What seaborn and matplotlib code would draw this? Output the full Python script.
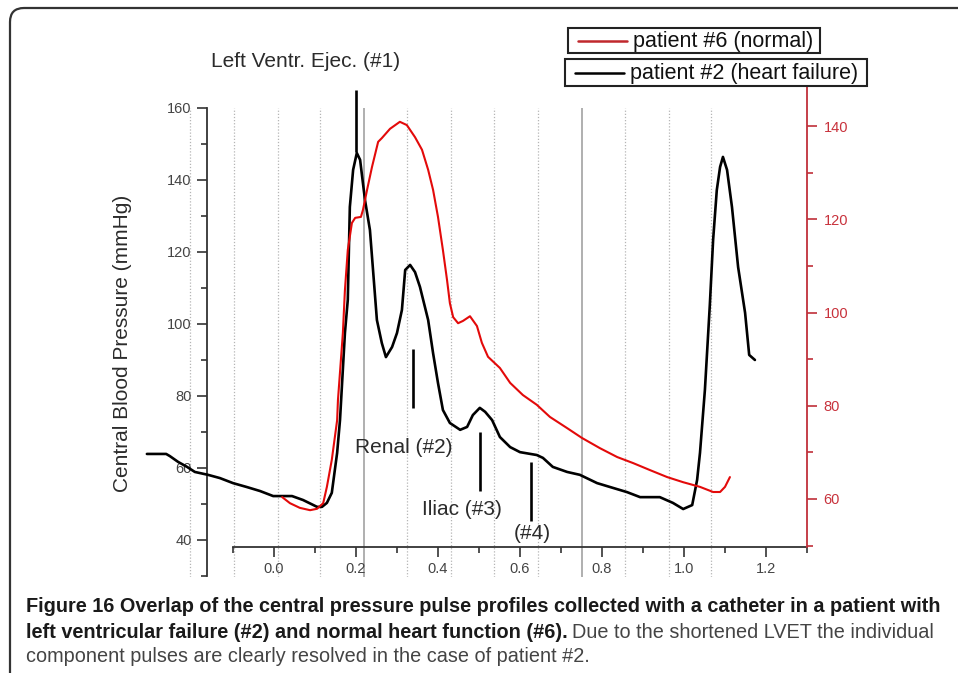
import numpy as np
import seaborn as sns
import matplotlib.pyplot as plt
from matplotlib.patches import FancyBboxPatch, Rectangle
from matplotlib.lines import Line2D
from matplotlib.transforms import IdentityTransform
from matplotlib.ticker import FixedLocator

# patient #2 (heart failure), left axis (mmHg)
hf_time = [-0.310, -0.263, -0.254, -0.234, -0.212, -0.193, -0.161, -0.132, -0.100, -0.066,
           -0.034, -0.002, 0.022, 0.044, 0.071, 0.105, 0.117, 0.129, 0.141, 0.154,
           0.161, 0.173, 0.180, 0.185, 0.193, 0.202, 0.210, 0.222, 0.234, 0.251,
           0.263, 0.273, 0.288, 0.300, 0.312, 0.320, 0.332, 0.344, 0.356, 0.376,
           0.388, 0.400, 0.412, 0.429, 0.454, 0.471, 0.485, 0.502, 0.515, 0.532,
           0.551, 0.576, 0.600, 0.641, 0.656, 0.680, 0.715, 0.746, 0.788, 0.820,
           0.861, 0.893, 0.941, 0.973, 0.998, 1.020, 1.032, 1.039, 1.051, 1.063,
           1.071, 1.080, 1.088, 1.095, 1.105, 1.117, 1.132, 1.149, 1.159, 1.173]
hf_pressure = [63.9, 63.9, 63.3, 61.7, 60.3, 58.9, 58.1, 57.2, 55.8, 54.7,
               53.6, 52.2, 52.2, 52.2, 51.1, 49.2, 49.2, 50.3, 53.1, 64.2,
               73.3, 97.5, 106.7, 132.5, 142.8, 147.5, 145.6, 134.4, 126.1, 101.1,
               94.7, 90.8, 93.6, 97.5, 103.9, 115.0, 116.4, 114.4, 110.3, 101.1,
               91.9, 83.6, 76.1, 72.5, 70.6, 71.4, 74.7, 76.7, 75.6, 73.3,
               68.6, 65.8, 64.4, 63.6, 62.8, 60.3, 58.9, 58.1, 55.8, 54.7,
               53.3, 51.9, 51.9, 50.3, 48.6, 49.7, 56.7, 64.2, 81.7, 105.3,
               123.3, 137.2, 143.6, 146.4, 142.8, 132.5, 115.8, 103.1, 91.4, 90.0]

# patient #6 (normal), right axis
normal_time = [0.020, 0.039, 0.063, 0.088, 0.105, 0.120, 0.129, 0.141, 0.154, 0.156,
               0.168, 0.173, 0.180, 0.190, 0.198, 0.212, 0.217, 0.227, 0.239, 0.254,
               0.263, 0.283, 0.307, 0.324, 0.344, 0.361, 0.376, 0.388, 0.400, 0.412,
               0.422, 0.429, 0.437, 0.449, 0.461, 0.478, 0.495, 0.507, 0.522, 0.551,
               0.576, 0.607, 0.641, 0.673, 0.715, 0.751, 0.795, 0.837, 0.876, 0.917,
               0.959, 0.998, 1.039, 1.071, 1.088, 1.100, 1.112]
normal_pressure = [60.4, 59.1, 58.1, 57.6, 57.9, 59.1, 62.6, 68.4, 76.9, 81.2,
                   95.6, 104.8, 113.4, 119.2, 120.3, 120.5, 122.0, 126.3, 131.2, 136.6,
                   137.4, 139.4, 140.9, 140.2, 137.6, 134.9, 130.6, 126.3, 120.5, 113.4,
                   107.0, 102.0, 99.0, 97.7, 98.2, 99.2, 97.1, 93.5, 90.5, 88.1,
                   84.9, 82.3, 80.2, 77.6, 75.2, 73.1, 70.9, 69.0, 67.7, 66.2,
                   64.7, 63.6, 62.6, 61.5, 61.5, 62.6, 64.7]

# recorder time grid
grid_time = [-0.205, -0.098, 0.010, 0.112, 0.220, 0.324, 0.432, 0.537, 0.644, 0.751,
             0.856, 0.963, 1.066]
grid_solid = [0.220, 0.751]

# component pulse markers
mark_time = [0.200, 0.339, 0.502, 0.627]
mark_low = [147.8, 76.7, 53.6, 45.3]
mark_high = [165.0, 93.1, 70.0, 61.7]
mark_labels = ["Left Ventr. Ejec. (#1)", "Renal (#2)", "Iliac (#3)", "(#4)"]
label_time = [0.078, 0.317, 0.459, 0.629]
label_level = [172.8, 65.8, 48.6, 41.9]

left_ticks = [40, 60, 80, 100, 120, 140, 160]
right_ticks = [60, 80, 100, 120, 140]
x_ticks = [0.0, 0.2, 0.4, 0.6, 0.8, 1.0, 1.2]

W, H = 958, 673
sns.set_theme(style="white")
plt.rcParams["font.family"] = ["Liberation Sans", "DejaVu Sans"]

fig = plt.figure(figsize=(W / 100, H / 100), dpi=100)


def fx(px):
    return px / W


def fy(py):
    return 1 - py / H


ax = fig.add_axes([fx(140), fy(577), (807 - 140) / W, (577 - 86) / H])
ax.set_facecolor("none")
ax2 = ax.twinx()

# grid
dotted = [t for t in grid_time if t not in grid_solid]
ax.vlines(dotted, 29.72, 160, colors="#b5b5b5", linestyles=(0, (1, 1.5)), lw=0.9, zorder=0)
ax.vlines(grid_solid, 29.72, 160, colors="#9a9a9a", lw=1.1, zorder=0)

sns.lineplot(x=hf_time, y=hf_pressure, ax=ax, color="black", lw=1.9,
             estimator=None, sort=False, zorder=3)
sns.lineplot(x=normal_time, y=normal_pressure, ax=ax2, color="#e30a0a", lw=1.5,
             estimator=None, sort=False)

# markers + labels
ax.vlines(mark_time, mark_low, mark_high, colors="black", lw=1.9, zorder=4)
for lab, tx, ty in zip(mark_labels, label_time, label_level):
    ax.text(tx, ty, lab, ha="center", va="center", fontsize=15, color="#2b2b2b",
            clip_on=False)

ax.set_xlim(-0.3268, 1.3)
ax.set_ylim(29.72, 166.1)
ax2.set_ylim(43.27, 148.58)

for s in ["top", "right"]:
    ax.spines[s].set_visible(False)
for s in ["top", "left", "bottom"]:
    ax2.spines[s].set_visible(False)
ax.spines["left"].set_position(("data", -0.1634))
ax.spines["left"].set_bounds(30, 160)
ax.spines["bottom"].set_position(("data", 38.06))
ax.spines["bottom"].set_bounds(-0.1, 1.3)
for s in ["left", "bottom"]:
    ax.spines[s].set_color("#333333")
    ax.spines[s].set_linewidth(1.3)
ax2.spines["right"].set_color("#c0303a")
ax2.spines["right"].set_linewidth(1.3)
ax2.spines["right"].set_bounds(49.7, 148.58)

ax.set_yticks(left_ticks)
ax.set_yticklabels([str(v) for v in left_ticks])
ax.yaxis.set_minor_locator(FixedLocator(np.arange(30, 151, 20)))
ax.set_xticks(x_ticks)
ax.set_xticklabels([f"{v:.1f}" for v in x_ticks])
ax.xaxis.set_minor_locator(FixedLocator(np.arange(-0.1, 1.31, 0.2)))
ax.tick_params(left=True, bottom=True, right=False, top=False, which="both",
               direction="out", width=1.2, colors="#333333", labelcolor="#444444",
               labelsize=10.5)
ax.tick_params(which="major", length=7, pad=4)
ax.tick_params(which="minor", length=4)
ax.set_xlabel("")
ax.set_ylabel("")

ax2.set_yticks(right_ticks)
ax2.set_yticklabels([str(v) for v in right_ticks])
ax2.yaxis.set_minor_locator(FixedLocator(np.arange(50, 141, 20)))
ax2.tick_params(axis="y", right=True, left=False, which="both", direction="out",
                width=1.2, colors="#c0303a", labelcolor="#c8323c", labelsize=10.5)
ax2.tick_params(axis="y", which="major", length=7, pad=5)
ax2.tick_params(axis="y", which="minor", length=4)
ax2.set_ylabel("")

fig.text(fx(122), fy(343), "Central Blood Pressure (mmHg)", rotation=90,
         ha="center", va="center", fontsize=15, color="#2b2b2b")

# legend boxes
legend_rows = [("patient #6 (normal)", "#c0282d", 568, 28, 820, 53),
               ("patient #2 (heart failure)", "black", 565, 59, 867, 86)]
for text, col, x0, y0, x1, y1 in legend_rows:
    fig.add_artist(Rectangle((fx(x0), fy(y1)), (x1 - x0) / W, (y1 - y0) / H,
                             transform=fig.transFigure, fill=True, fc="white",
                             ec="#222222", lw=1.5, zorder=5))
    yc = fy((y0 + y1) / 2)
    fig.add_artist(Line2D([fx(x0 + 10), fx(x0 + 59)], [yc, yc], color=col, lw=1.8,
                          transform=fig.transFigure, zorder=6))
    fig.text(fx(x0 + 65), yc - 0.002, text, ha="left", va="center", fontsize=15.5,
             color="#111111", zorder=6)

# frame
fig.add_artist(FancyBboxPatch((10, -60), 1000, H - 8 + 60,
                              boxstyle="round,pad=0,rounding_size=14",
                              transform=IdentityTransform(), fill=False,
                              ec="#333333", lw=1.6))

# caption
cap_font = ["Liberation Sans Narrow", "Liberation Sans", "DejaVu Sans"]
line1 = ("Figure 16 Overlap of the central pressure pulse profiles collected with a "
         "catheter in a patient with")
bold2 = "left ventricular failure (#2) and normal heart function (#6)."
reg2 = "Due to the shortened LVET the individual"
line3 = "component pulses are clearly resolved in the case of patient #2."

t1 = fig.text(fx(26), fy(612), line1, fontsize=14, fontweight="bold", family=cap_font,
              color="#1a1a1a", va="baseline")
fig.canvas.draw()
r = fig.canvas.get_renderer()
w1 = t1.get_window_extent(r).width
fs = 14 * (940 - 26) / w1
t1.set_fontsize(fs)
t2 = fig.text(fx(26), fy(638), bold2, fontsize=fs, fontweight="bold", family=cap_font,
              color="#1a1a1a", va="baseline")
fig.canvas.draw()
x2 = t2.get_window_extent(r).x1 + fs * 0.3
fig.text(x2 / W, fy(638), reg2, fontsize=fs, family=cap_font, color="#444444",
         va="baseline")
fig.text(fx(26), fy(662), line3, fontsize=fs, family=cap_font, color="#444444",
         va="baseline")

fig.savefig("out.png", dpi=100)
